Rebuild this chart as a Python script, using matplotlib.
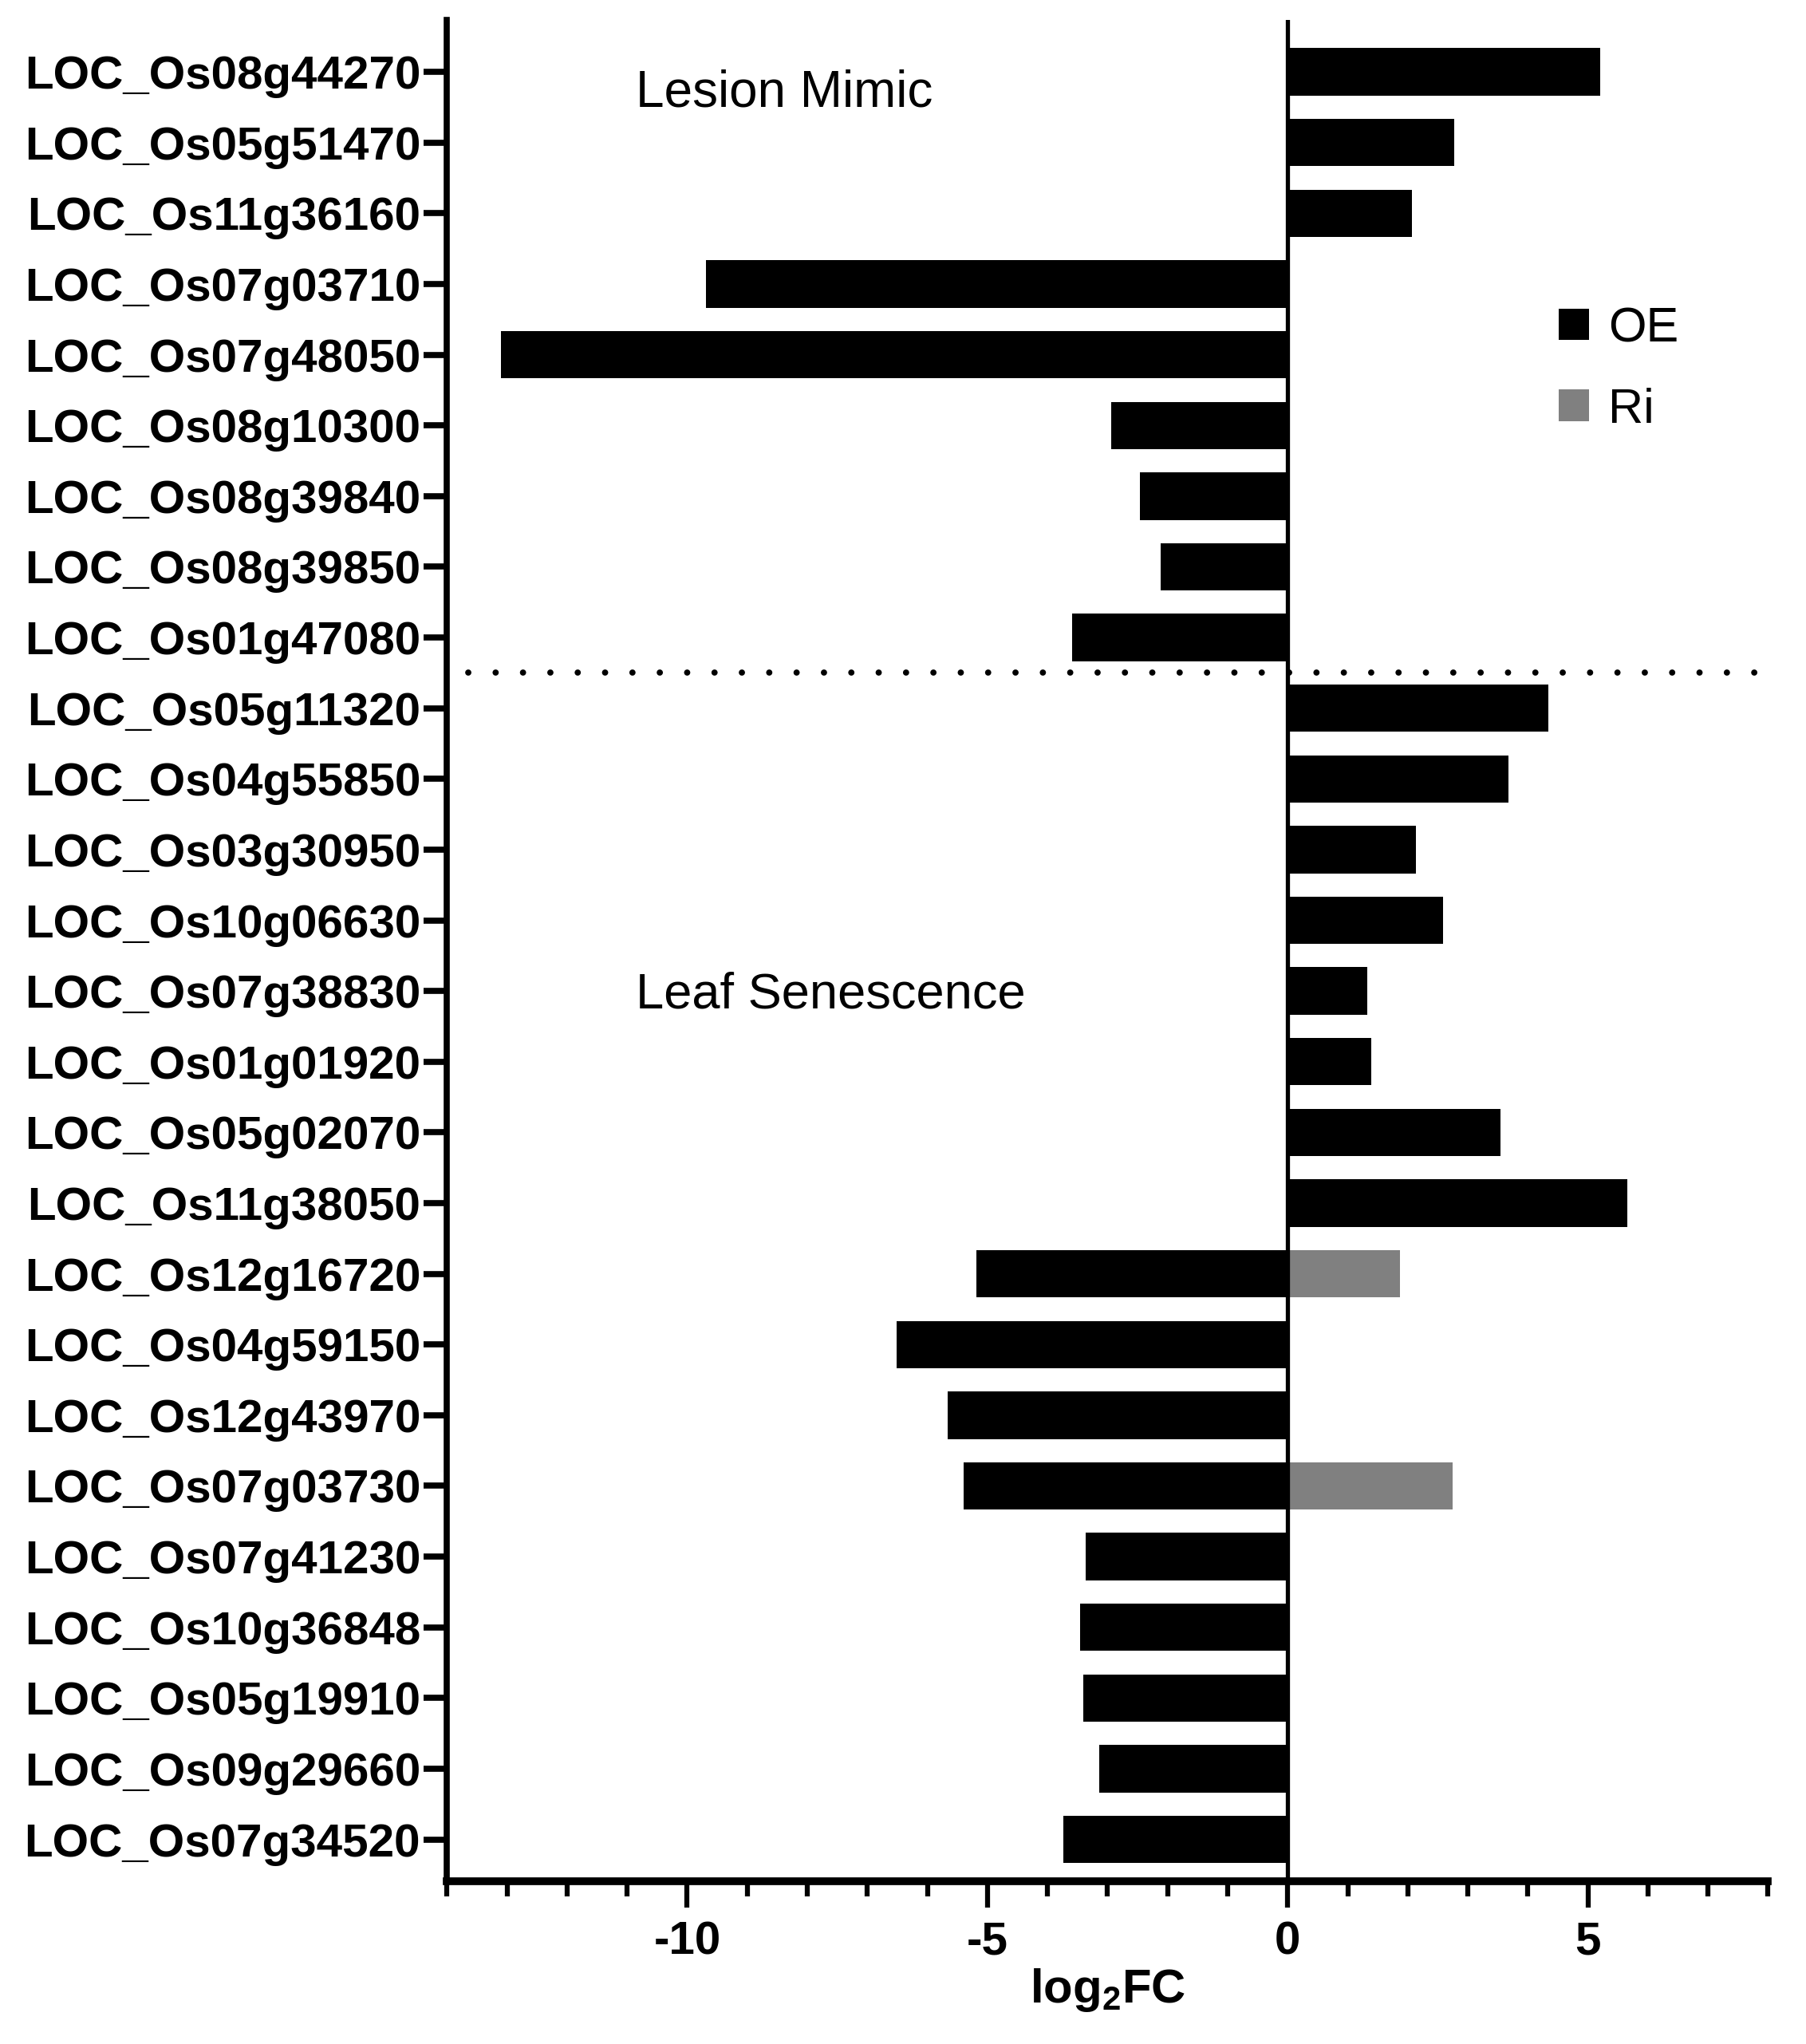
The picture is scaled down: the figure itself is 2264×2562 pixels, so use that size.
import matplotlib
matplotlib.use("Agg")
import matplotlib.pyplot as plt
from matplotlib.patches import Patch
from matplotlib.ticker import MultipleLocator

plt.rcParams['font.family'] = ['Liberation Sans', 'DejaVu Sans']
plt.rcParams['mathtext.fontset'] = 'custom'
plt.rcParams['mathtext.rm'] = 'Liberation Sans'
plt.rcParams['mathtext.bf'] = 'Liberation Sans:bold'

# genes, top to bottom
genes = ["LOC_Os08g44270", "LOC_Os05g51470", "LOC_Os11g36160", "LOC_Os07g03710",
         "LOC_Os07g48050", "LOC_Os08g10300", "LOC_Os08g39840", "LOC_Os08g39850",
         "LOC_Os01g47080", "LOC_Os05g11320", "LOC_Os04g55850", "LOC_Os03g30950",
         "LOC_Os10g06630", "LOC_Os07g38830", "LOC_Os01g01920", "LOC_Os05g02070",
         "LOC_Os11g38050", "LOC_Os12g16720", "LOC_Os04g59150", "LOC_Os12g43970",
         "LOC_Os07g03730", "LOC_Os07g41230", "LOC_Os10g36848", "LOC_Os05g19910",
         "LOC_Os09g29660", "LOC_Os07g34520"]

oe_values = [5.2, 2.77, 2.07, -9.69, -13.1, -2.94, -2.46, -2.11, -3.59,
             4.34, 3.68, 2.14, 2.59, 1.33, 1.39, 3.55, 5.66,
             -5.19, -6.51, -5.66, -5.40, -3.36, -3.46, -3.40, -3.14, -3.73]

# Ri values only exist for two genes
ri_genes = ["LOC_Os12g16720", "LOC_Os07g03730"]
ri_values = [1.87, 2.75]

x_ticks = [-10, -5, 0, 5]
group_labels = ["Lesion Mimic", "Leaf Senescence"]

fig = plt.figure(figsize=(22.64, 25.62), dpi=100)
ax = fig.add_axes([0.2475, 0.0797, 0.9790 - 0.2475, 0.9904 - 0.0797])

ypos = list(range(len(genes)))
ax.barh(ypos, oe_values, height=0.67, color='black', zorder=2)
ri_pos = [genes.index(g) for g in ri_genes]
ax.barh(ri_pos, ri_values, height=0.67, color='#808080', zorder=2)

# zero line
ax.axvline(0, color='black', lw=3.8, zorder=3)

# separator between the two groups (round dots)
ax.plot([-13.65, 7.9], [8.5, 8.5], color='black', lw=5.6,
        dashes=(0.01, 4.4), dash_capstyle='round', zorder=3)

ax.text(-10.85, 0.3, group_labels[0], fontsize=46, ha='left', va='center')
ax.text(-10.85, 13.05, group_labels[1], fontsize=45.5, ha='left', va='center')

ax.set_xlim(-14, 8)
ax.set_ylim(25.59, -0.74)
ax.set_yticks(ypos)
ax.set_yticklabels(genes, fontsize=42, fontweight='bold')
ax.set_xticks(x_ticks)
ax.set_xticklabels([str(t) for t in x_ticks], fontsize=42, fontweight='bold')
ax.xaxis.set_minor_locator(MultipleLocator(1))

ax.spines['top'].set_visible(False)
ax.spines['right'].set_visible(False)
ax.spines['left'].set_linewidth(5.5)
ax.spines['bottom'].set_linewidth(7)

ax.tick_params(axis='y', length=21, width=5.5, pad=3)
ax.tick_params(axis='x', which='major', length=24, width=4.5, pad=12)
ax.tick_params(axis='x', which='minor', length=14, width=4.5)

ax.set_xlabel(r'log$_\mathbf{2}$FC', fontsize=43, fontweight='bold', labelpad=2)

handles = [Patch(facecolor='black', edgecolor='none'),
           Patch(facecolor='#808080', edgecolor='none')]
ax.legend(handles, ["OE", "Ri"], loc='upper left', bbox_to_anchor=(0.823, 0.859),
          frameon=False, fontsize=44, handlelength=0.62, handleheight=0.62,
          handletextpad=0.4, labelspacing=0.73, borderpad=0)

fig.savefig("out.png", dpi=100)
